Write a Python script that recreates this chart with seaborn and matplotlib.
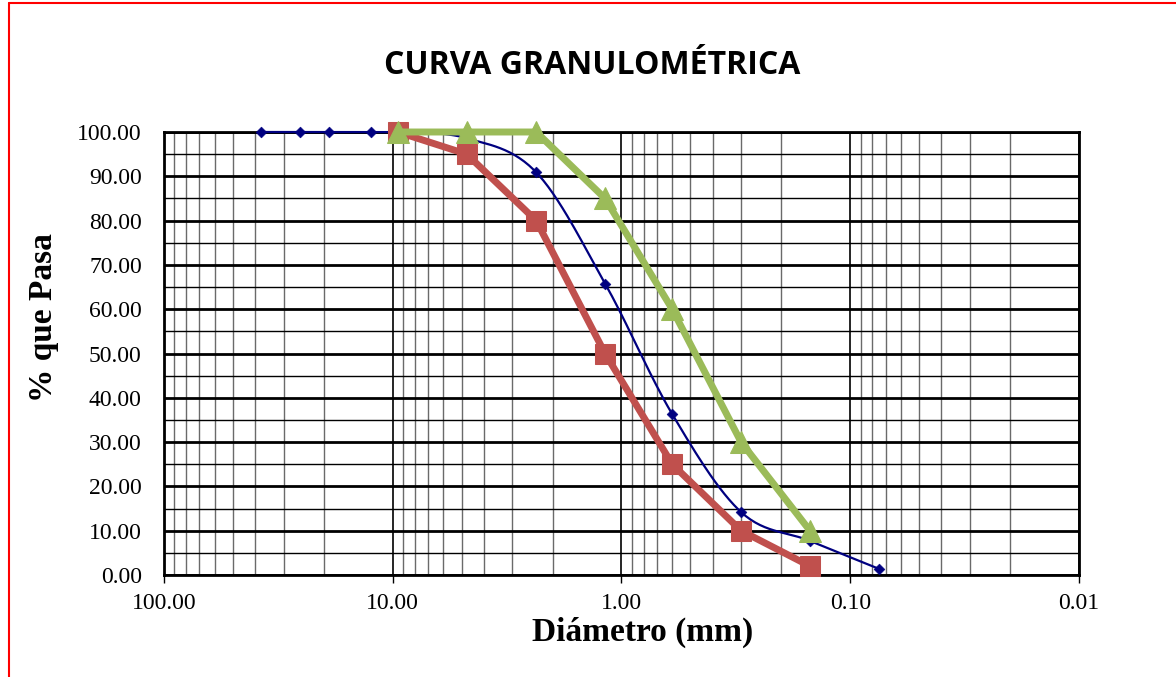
import numpy as np
import pandas as pd
import matplotlib
matplotlib.use("Agg")
import matplotlib.pyplot as plt
from matplotlib.lines import Line2D
from matplotlib.ticker import FixedLocator, LogLocator, NullFormatter, MultipleLocator
import seaborn as sns

# ---- data ----
blue_d = [37.5, 25.4, 19.0, 12.5, 9.5, 4.75, 2.36, 1.18, 0.60, 0.30, 0.15, 0.075]
blue_p = [100.0, 100.0, 100.0, 100.0, 100.0, 98.6, 90.9, 65.8, 36.3, 14.2, 7.7, 1.4]
red_d = [9.5, 4.75, 2.36, 1.18, 0.60, 0.30, 0.15]
red_p = [100.0, 95.0, 80.0, 50.0, 25.0, 10.0, 2.0]
green_d = [9.5, 4.75, 2.36, 1.18, 0.60, 0.30, 0.15]
green_p = [100.0, 100.0, 100.0, 85.0, 60.0, 30.0, 10.0]
x_ticks = [100, 10, 1, 0.1, 0.01]
x_ticklabels = ["100.00", "10.00", "1.00", "0.10", "0.01"]
y_ticks = [0, 10, 20, 30, 40, 50, 60, 70, 80, 90, 100]

sns.set_theme(style="white")
plt.rcParams['font.family'] = ['Liberation Serif', 'DejaVu Sans']

fig = plt.figure(figsize=(11.76, 6.77), dpi=100)
ax = fig.add_axes([164/1176, 1-575/677, (1079-164)/1176, (575-132)/677])

# smooth blue curve (Catmull-Rom in log-x space, like Excel smoothing)
def catmull(xs, ys, n=30):
    P = np.column_stack([xs, ys])
    P = np.vstack([P[0], P, P[-1]])
    out = []
    for i in range(1, len(P) - 2):
        p0, p1, p2, p3 = P[i-1], P[i], P[i+1], P[i+2]
        t = np.linspace(0, 1, n)[:, None]
        seg = 0.5 * ((2*p1) + (-p0 + p2)*t + (2*p0 - 5*p1 + 4*p2 - p3)*t**2 + (-p0 + 3*p1 - 3*p2 + p3)*t**3)
        out.append(seg)
    return np.vstack(out)

curve = catmull(np.log10(blue_d), np.array(blue_p))
ax.plot(10**curve[:, 0], np.clip(curve[:, 1], None, 100), color="#000080", lw=1.6, zorder=3,
        clip_on=False)
sns.scatterplot(x=blue_d, y=blue_p, ax=ax, marker="D", s=30, color="#000080",
                edgecolor="#000080", zorder=4, legend=False, clip_on=False)

sns.lineplot(x=red_d, y=red_p, ax=ax, color="#C0504D", lw=5, marker="s", markersize=14,
             markeredgecolor="#C0504D", sort=False, zorder=5, clip_on=False)
sns.lineplot(x=green_d, y=green_p, ax=ax, color="#9BBB59", lw=5, marker="^", markersize=16,
             markeredgecolor="#9BBB59", sort=False, zorder=6, clip_on=False)

ax.set_xscale("log")
ax.set_xlim(100, 0.01)
ax.set_ylim(0, 100)

ax.xaxis.set_major_locator(FixedLocator(x_ticks))
ax.set_xticklabels(x_ticklabels)
ax.xaxis.set_minor_locator(LogLocator(base=10, subs=np.arange(2, 10)))
ax.xaxis.set_minor_formatter(NullFormatter())
ax.yaxis.set_major_locator(FixedLocator(y_ticks))
ax.set_yticklabels([f"{v:.2f}" for v in y_ticks])
ax.yaxis.set_minor_locator(MultipleLocator(5))

ax.grid(True, which="major", axis="y", color="black", lw=2.0)
ax.grid(True, which="minor", axis="y", color="black", lw=1.0)
ax.grid(True, which="major", axis="x", color="black", lw=1.2)
ax.grid(True, which="minor", axis="x", color="#6a6a6a", lw=1.0)

for s in ax.spines.values():
    s.set_color("black")
    s.set_linewidth(2)

ax.tick_params(axis="y", which="major", labelsize=17, colors="black", length=0, pad=16)
ax.tick_params(axis="y", which="minor", length=0)
ax.tick_params(axis="x", which="major", labelsize=17, colors="black", length=6, width=1,
               direction="out", bottom=True, pad=7)
ax.tick_params(axis="x", which="minor", length=0)

ax.set_xlabel("Diámetro (mm)", fontsize=24, fontweight="bold", color="black")
ax.set_ylabel("% que Pasa", fontsize=24, fontweight="bold", color="black")
ax.xaxis.set_label_coords((643-164)/(1079-164), -(632-575)/(575-132))
ax.yaxis.set_label_coords(-(164-43)/(1079-164), (575-318)/(575-132))
ax.xaxis.label.set_va("center")
ax.yaxis.label.set_va("center")

fig.text(592/1176, 1-66/677, "CURVA GRANULOMÉTRICA", ha="center", va="center",
         fontsize=23, fontweight="bold", color="black", family=["Open Sans", "DejaVu Sans"])

# red frame (left and top edges)
fig.add_artist(Line2D([9/1176, 9/1176], [0, 1-3/677], color="red", lw=1.5, transform=fig.transFigure))
fig.add_artist(Line2D([9/1176, 1], [1-3/677, 1-3/677], color="red", lw=1.5, transform=fig.transFigure))

fig.savefig("out.png", dpi=100, facecolor="white")
